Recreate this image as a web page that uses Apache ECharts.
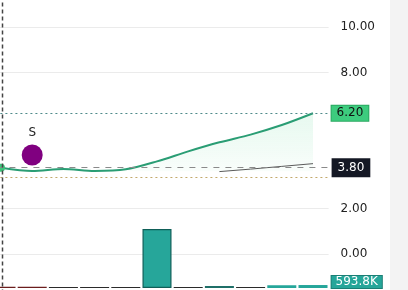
<!DOCTYPE html>
<html>
<head>
<meta charset="utf-8">
<script src="https://cdn.jsdelivr.net/npm/echarts@6/dist/echarts.min.js"></script>
<style>
  html, body {margin: 0; padding: 0; background: #fff;}
  #chart {width: 408px; height: 290px;}
</style>
</head>
<body>
<div id="chart"></div>
<script>
const categories = ['1', '2', '3', '4', '5', '6', '7', '8', '9', '10', '11'];
const price = [3.80, 3.66, 3.75, 3.66, 3.73, 4.08, 4.52, 4.92, 5.26, 5.68, 6.20];
const avgLine = [null, null, null, null, null, null, null, 3.63, 3.74, 3.86, 3.98];
const volume = [250000, 250000, 200000, 200000, 200000, 11800000, 200000, 400000, 200000, 550000, 593800];
const volColors = ['#6b1d1d', '#6b1d1d', '#2b2b2b', '#2b2b2b', '#2b2b2b', '#26a69a', '#2b2b2b', '#1f6f68', '#2b2b2b', '#26a69a', '#26a69a'];
const shownTicks = [0, 2, 8, 10];
const lastPrice = 3.80;
const highPrice = 6.20;
const lowLevel = 3.39;
const signal = [[1, 4.36]];

const chart = echarts.init(document.getElementById('chart'));
const font = 'DejaVu Sans';

chart.setOption({
  animation: false,
  textStyle: {fontFamily: font},
  graphic: [
    {type: 'rect', right: 0, top: 0, shape: {width: 18, height: 290}, style: {fill: '#f3f3f3'}, silent: true},
    {type: 'line', left: 0, top: 0, shape: {x1: 1, y1: 0, x2: 1, y2: 290},
      style: {stroke: '#444', lineWidth: 1.5, lineDash: [4, 3]}, silent: true, z: 10}
  ],
  grid: [
    {left: -14.6, width: 343.2, top: 27, bottom: 36, outerBoundsMode: 'none'},
    {left: -14.6, width: 343.2, top: 218, bottom: 2, outerBoundsMode: 'none'}
  ],
  xAxis: [
    {type: 'category', data: categories, gridIndex: 0, boundaryGap: true, show: false},
    {type: 'category', data: categories, gridIndex: 1, boundaryGap: true, show: false}
  ],
  yAxis: [
    {
      type: 'value', gridIndex: 0, position: 'right', min: 0, max: 10, interval: 2,
      axisLine: {show: false}, axisTick: {show: false},
      axisLabel: {
        margin: 12, color: '#222', fontSize: 12, fontFamily: font,
        formatter: v => shownTicks.includes(v) ? v.toFixed(2) : ''
      },
      splitLine: {lineStyle: {color: ['#ebebeb', '#ebebeb', 'transparent', 'transparent', '#ebebeb', '#ebebeb']}}
    },
    {type: 'value', gridIndex: 1, min: 0, max: 14000000, show: false, splitLine: {show: false}}
  ],
  series: [
    {
      name: 'price', type: 'line', xAxisIndex: 0, yAxisIndex: 0,
      data: price.map((v, i) => i === 0
        ? {value: v, symbol: 'circle', symbolSize: 8, itemStyle: {color: '#3cc47a'}}
        : {value: v, symbol: 'none'}),
      smooth: 0.3,
      lineStyle: {color: '#2a9d74', width: 2},
      areaStyle: {
        origin: 3.65,
        color: new echarts.graphic.LinearGradient(0, 0, 0, 1, [
          {offset: 0, color: 'rgba(80,210,140,0.2)'},
          {offset: 1, color: 'rgba(80,210,140,0.05)'}
        ])
      },
      markLine: {
        silent: true, symbol: 'none',
        data: [
          {
            yAxis: highPrice,
            lineStyle: {color: '#4e8a8a', type: [2, 3], width: 1.2},
            label: {
              position: 'end', distance: 3, formatter: highPrice.toFixed(2),
              backgroundColor: '#3dcc7e', borderColor: '#2aa860', borderWidth: 1,
              color: '#111', fontSize: 12, padding: [2, 5, 1, 5]
            }
          },
          {
            yAxis: lastPrice,
            lineStyle: {color: '#8a8a8a', type: [6, 6], width: 1.2},
            label: {
              position: 'end', distance: 3, formatter: lastPrice.toFixed(2),
              backgroundColor: '#141824', color: '#fff', fontSize: 12, padding: [4, 6, 3, 6]
            }
          },
          {
            yAxis: lowLevel,
            lineStyle: {color: '#c2a86a', type: [2, 3], width: 1.2},
            label: {show: false}
          }
        ]
      }
    },
    {
      name: 'avg', type: 'line', xAxisIndex: 0, yAxisIndex: 0,
      data: avgLine, symbol: 'none', connectNulls: false,
      lineStyle: {color: '#5a5a5a', width: 1}
    },
    {
      name: 'signal', type: 'scatter', xAxisIndex: 0, yAxisIndex: 0,
      data: signal, symbolSize: 21,
      itemStyle: {color: '#800080', opacity: 1},
      label: {show: true, position: 'top', distance: 6, formatter: 'S', color: '#222', fontSize: 12}
    },
    {
      name: 'volume', type: 'bar', xAxisIndex: 1, yAxisIndex: 1,
      barCategoryGap: '7%',
      data: volume.map((v, i) => ({
        value: v,
        itemStyle: {color: volColors[i], borderColor: i === 5 ? '#0f5f58' : volColors[i], borderWidth: i === 5 ? 1.2 : 0}
      })),
      markLine: {
        silent: true, symbol: 'none',
        data: [{
          yAxis: volume[volume.length - 1],
          lineStyle: {color: 'transparent'},
          label: {
            show: true, position: 'end', distance: 3, formatter: (volume[volume.length - 1] / 1000).toFixed(1) + 'K',
            backgroundColor: '#26a69a', borderColor: '#1b7f75', borderWidth: 1,
            color: '#fff', fontSize: 12, padding: [0, 4, 0, 4], offset: [0, -3]
          }
        }]
      }
    }
  ]
});
</script>
</body>
</html>
